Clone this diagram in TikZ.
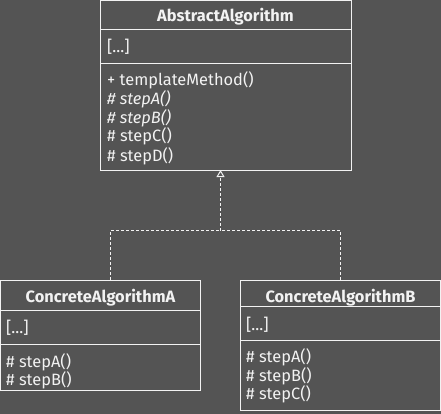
\documentclass[tikz,border=0pt]{standalone}
\usepackage{fontspec}
\setmainfont{Fira Sans}
\usetikzlibrary{arrows.meta}
\definecolor{bg}{HTML}{545454}
\definecolor{fg}{HTML}{F2F2F2}
\begin{document}
\begin{tikzpicture}[x=1pt,y=-1pt,
  umlbox/.style={draw=fg, line width=1pt, anchor=north west, inner sep=0pt, outer sep=0pt},
  sep/.style={draw=fg, line width=1pt},
  txt/.style={text=fg, anchor=base west, inner sep=0pt, font=\fontsize{16.4}{18}\selectfont},
  ttl/.style={text=fg, anchor=base, inner sep=0pt, font=\fontsize{16.4}{18}\selectfont\bfseries},
  dep/.style={draw=fg, line width=1pt, dash pattern=on 3pt off 2pt}]
\fill[bg] (0,0) rectangle (441,414);
\useasboundingbox (0,0) rectangle (441,414);
% Abstract
\node[umlbox, minimum width=251pt, minimum height=169pt] (abs) at (100.5,1) {};
\draw[sep] (100.5,30) -- (351.5,30);
\draw[sep] (100.5,64) -- (351.5,64);
\node[ttl] (absT) at (225.5,22) {AbstractAlgorithm};
\node[txt] (absA) at (107,53) {[...]};
\node[txt] (absM1) at (107,86) {+ templateMethod()};
\node[txt] (absM2) at (107,104.7) {\itshape \# stepA()};
\node[txt] (absM3) at (107,123.4) {\itshape \# stepB()};
\node[txt] (absM4) at (107,142) {\# stepC()};
\node[txt] (absM5) at (107,161) {\# stepD()};
% A
\node[umlbox, minimum width=200pt, minimum height=110pt] (ca) at (0.5,280) {};
\draw[sep] (0.5,310) -- (200.5,310);
\draw[sep] (0.5,344) -- (200.5,344);
\node[ttl] (caT) at (100.5,302) {ConcreteAlgorithmA};
\node[txt] (caA) at (6,333) {[...]};
\node[txt] (caM1) at (6,367) {\# stepA()};
\node[txt] (caM2) at (6,385) {\# stepB()};
% B
\node[umlbox, minimum width=200pt, minimum height=130pt] (cb) at (240.5,280) {};
\draw[sep] (240.5,306) -- (440.5,306);
\draw[sep] (240.5,340) -- (440.5,340);
\node[ttl] (cbT) at (340.5,302) {ConcreteAlgorithmB};
\node[txt] (cbA) at (246,330) {[...]};
\node[txt] (cbM1) at (246,362) {\# stepA()};
\node[txt] (cbM2) at (246,381) {\# stepB()};
\node[txt] (cbM3) at (246,399) {\# stepC()};
% connectors
\coordinate (j) at (220.5,230.5);
\draw[dep] ([xshift=10pt]ca.north) |- (j);
\draw[dep] (cb.north) |- (j);
\draw[dep, -{Triangle[open, width=8pt, length=7pt, fill=bg]}] (j) -- (abs.south -| j);
\end{tikzpicture}
\end{document}
